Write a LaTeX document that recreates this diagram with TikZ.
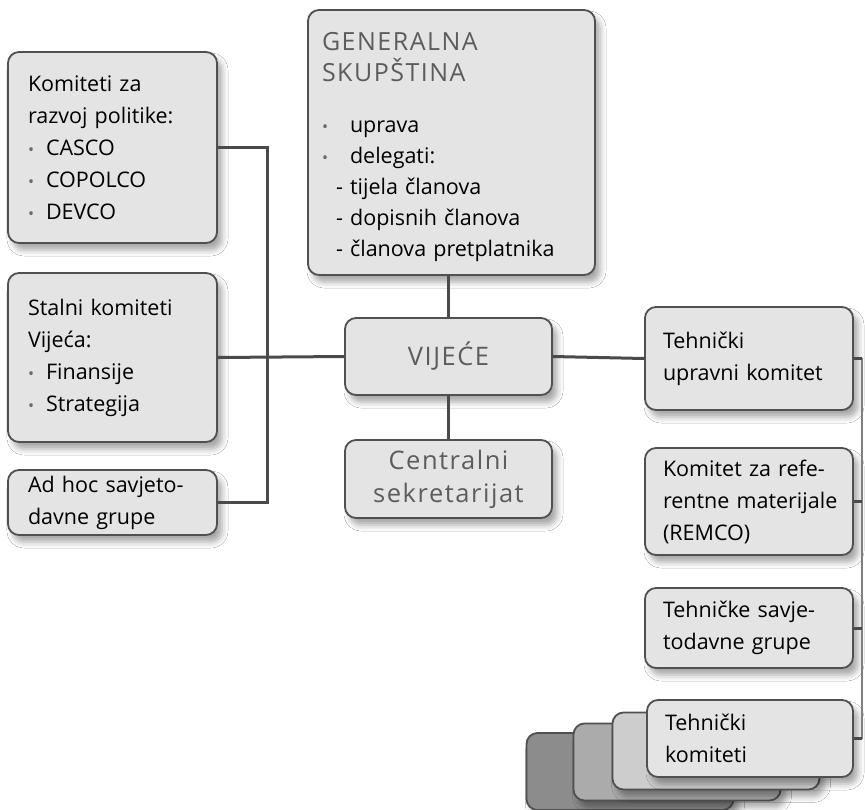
\documentclass[tikz,border=0pt]{standalone}
\usepackage{fontspec}
\setmainfont{Open Sans}
\usetikzlibrary{shadows.blur}

\definecolor{boxfill}{HTML}{E4E4E4}
\definecolor{boxline}{HTML}{505050}
\definecolor{linkcol}{HTML}{4A4A4A}
\definecolor{hdrcol}{HTML}{5C5C5C}
\definecolor{bulcol}{HTML}{6A6A6A}
\definecolor{layerA}{HTML}{CDCDCD}
\definecolor{layerB}{HTML}{ABABAB}
\definecolor{layerC}{HTML}{8C8C8C}

\newcommand{\bul}[1][12pt]{{\color{bulcol}\fontsize{16}{16}\selectfont\textbullet}\hspace{#1}}
\newcommand{\spaced}{\addfontfeature{LetterSpace=6}}

\tikzset{
  orgbox/.style={draw=boxline, line width=1.8pt, fill=boxfill, rounded corners=11pt,
    inner xsep=20pt, inner ysep=0pt, align=left, font=\fontsize{21.5}{32}\selectfont,
    blur shadow={shadow xshift=5pt, shadow yshift=-7pt, shadow blur radius=6pt, shadow opacity=35}},
  sidebox/.style={orgbox, text width=169pt},
  rightbox/.style={orgbox, inner xsep=18pt, text width=172pt},
  greybox/.style={orgbox, text width=167pt, align=center, text=hdrcol,
    font=\fontsize{25.5}{33}\selectfont\spaced},
  layer/.style={orgbox, minimum width=207pt, minimum height=77pt},
  link/.style={draw=linkcol, line width=3pt},
  bus/.style={draw=linkcol!70, line width=1.5pt},
}

\begin{document}
\begin{tikzpicture}[x=1pt,y=-1pt]

  \useasboundingbox (0,0) rectangle (865,809);
  \fill[white] (0,0) rectangle (865,809);

  % left column
  \node[sidebox, minimum height=191pt] (pol) at (112.5,147.5)
    {Komiteti za\\razvoj politike:\\\bul CASCO\\\bul COPOLCO\\\bul DEVCO};
  \node[sidebox, minimum height=169pt] (stal) at (112.5,357.5)
    {Stalni komiteti\\Vijeća:\\\bul Finansije\\\bul Strategija};
  \node[sidebox, minimum height=65pt] (adhoc) at (112.5,502.5)
    {Ad hoc savjeto-\\davne grupe};

  % middle column
  \node[orgbox, text width=259pt, inner xsep=14pt, minimum height=265pt,
        font=\fontsize{21.5}{31}\selectfont] (gs) at (451.5,142.5)
    {{\color{hdrcol}\fontsize{25}{34}\selectfont\spaced\rule{0pt}{28pt}GENERALNA\\SKUPŠTINA}\\[20pt]
     \bul[22pt]uprava\\
     \bul[22pt]delegati:\\
     \hspace*{14pt}- tijela članova\\
     \hspace*{14pt}- dopisnih članova\\
     \hspace*{14pt}- članova pretplatnika};
  \node[greybox, minimum height=77pt] (vij) at (448.5,356.5) {VIJEĆE};
  \node[greybox, minimum height=78pt] (cs) at (448.5,479) {Centralni\\sekretarijat};

  % right column
  \node[rightbox, minimum height=103pt] (tuk) at (749,358.5)
    {Tehnički\\upravni komitet};
  \node[rightbox, minimum height=107pt] (remco) at (749,501.5)
    {\mbox{Komitet za refe-}\\\mbox{rentne materijale}\\(REMCO)};
  \node[rightbox, minimum height=80pt] (tsg) at (749,628)
    {Tehničke savje-\\todavne grupe};

  % stack of technical committees
  \node[layer, fill=layerC] (tk3) at (630,771.5) {};
  \node[layer, fill=layerB] (tk2) at (677,762) {};
  \node[layer, fill=layerA] (tk1) at (716,751) {};
  \node[rightbox, text width=170pt, minimum height=77pt] (tk) at (750,738.5)
    {Tehnički\\komiteti};

  % connectors
  \coordinate (lbus) at (267,358);
  \coordinate (rbus) at (862,358);
  \draw[link] (pol.east) -| (lbus) |- (adhoc.east);
  \draw[link] (stal.east) -- (vij.west);
  \draw[link] (vij.north) -- (vij.north |- gs.south);
  \draw[link] (vij.south) -- (cs.north);
  \draw[link] (vij.east) -- (tuk.west);
  \draw[bus] (rbus) -- (rbus |- tk.east);
  \foreach \n in {tuk,remco,tsg,tk}
    \draw[link] (\n.east) -- (\n.east -| rbus);

\end{tikzpicture}
\end{document}
